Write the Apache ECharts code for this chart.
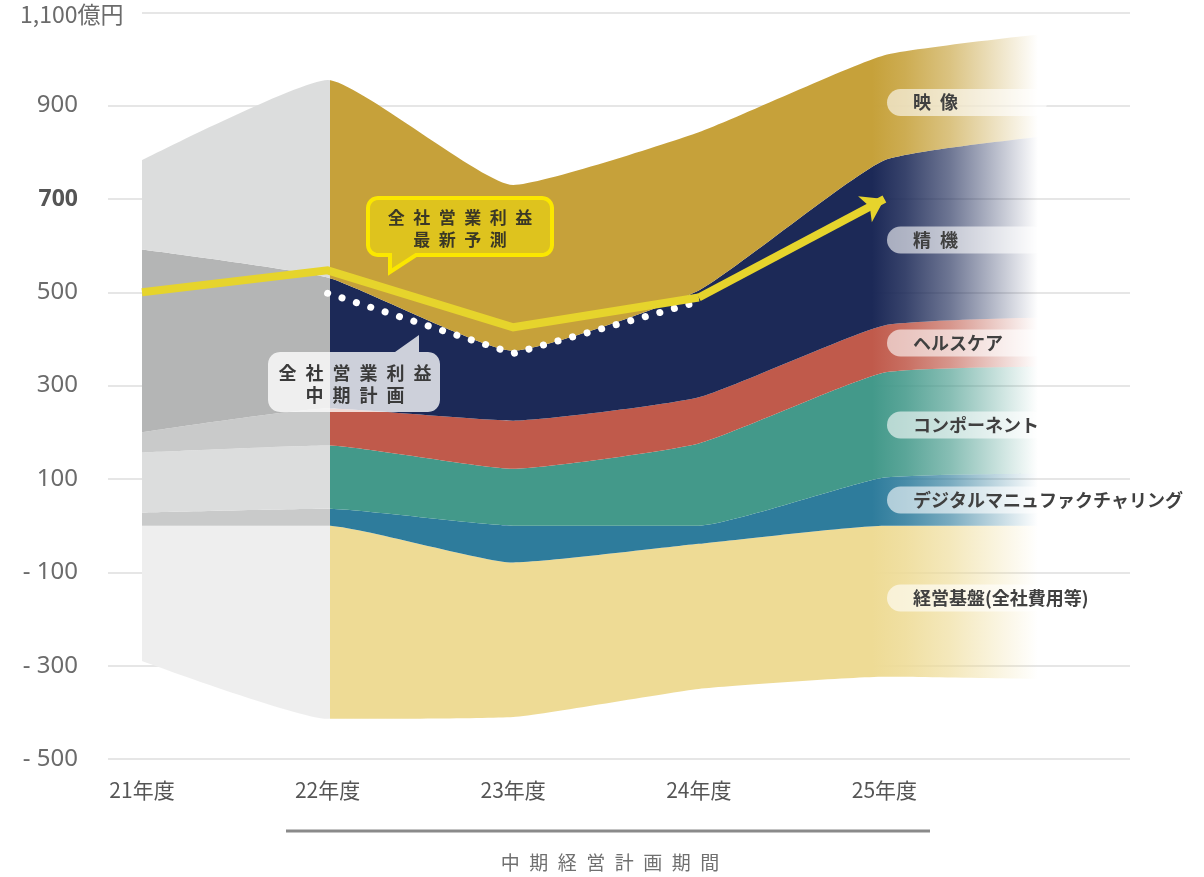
<!DOCTYPE html>
<html>
<head>
<meta charset="utf-8">
<script src="https://cdn.jsdelivr.net/npm/echarts@6/dist/echarts.min.js"></script>
<style>
  html, body { margin: 0; padding: 0; background: #fff; }
  #chart { width: 1204px; height: 877px; }
</style>
</head>
<body>
<div id="chart"></div>
<script>
// 年度
var years = ['21年度', '22年度', '23年度', '24年度', '25年度', ''];
// セグメント別営業利益 (億円)
var eizo = [191, 423, 355, 339, 225, 220];       // 映像
var seiki = [392, 281, 150, 229, 354, 393];      // 精機
var health = [43, 79, 103, 99, 101, 106];        // ヘルスケア
var comp = [129, 136, 122, 176, 225, 229];       // コンポーネント
var digital = [28, 36, -79, -39, 103, 112];      // デジタルマニュファクチャリング
var kiban = [-290, -414, -331, -311, -324, -330];// 経営基盤(全社費用等)
// 全社営業利益
var forecast = [500, 547, 425, 489, 700];        // 最新予測
var plan = ['-', 498, 369, 480, '-'];            // 中期計画
var yTicks = [-500, -300, -100, 100, 300, 500, 700, 900, 1100];

var chart = echarts.init(document.getElementById('chart'));

// bottom of the whole stack, so every band keeps its own thickness
var base = kiban.map(function (v, i) { return v + Math.min(digital[i], 0); });

var X0 = 142, X1 = 1070;
function off(px) { return (px - X0) / (X1 - X0); }
function fill(gray, color, rgb) {
  var c = function (a) { return 'rgba(' + rgb + ',' + a + ')'; };
  return new echarts.graphic.LinearGradient(X0, 0, X1, 0, [
    { offset: 0, color: gray },
    { offset: off(330), color: gray },
    { offset: off(330), color: color },
    { offset: off(872), color: color },
    { offset: off(905), color: c(0.88) },
    { offset: off(950), color: c(0.64) },
    { offset: off(1000), color: c(0.28) },
    { offset: off(1038), color: c(0) },
    { offset: 1, color: c(0) }
  ], true);
}

function band(name, values, gray, color, rgb) {
  return {
    name: name,
    type: 'line',
    xAxisIndex: 1,
    yAxisIndex: 1,
    stack: 'seg',
    stackStrategy: 'all',
    smooth: 0.15,
    symbol: 'none',
    lineStyle: { width: 0, opacity: 0 },
    areaStyle: { color: fill(gray, color, rgb), opacity: 1 },
    data: values.map(function (v) { return Math.abs(v); }),
    silent: true
  };
}

var font = '"Noto Sans CJK JP", "Noto Sans", sans-serif';
var sp = '\u2002';
function spaced(s) { return s.split('').join(sp); }

// rounded corner helper for the speech bubbles
function arc(cx, cy, r, a0, a1) {
  var pts = [];
  for (var k = 0; k <= 6; k++) {
    var a = (a0 + (a1 - a0) * k / 6) * Math.PI / 180;
    pts.push([cx + r * Math.cos(a), cy + r * Math.sin(a)]);
  }
  return pts;
}
function bubble(x1, y1, x2, y2, r, topTail, bottomTail) {
  return [].concat(
    arc(x1 + r, y1 + r, r, 180, 270), topTail || [],
    arc(x2 - r, y1 + r, r, 270, 360),
    arc(x2 - r, y2 - r, r, 0, 90), bottomTail || [],
    arc(x1 + r, y2 - r, r, 90, 180)
  );
}

function pill(y, text) {
  return [
    { type: 'rect', shape: { x: 887, y: y - 13.5, width: 160, height: 27, r: 13.5 },
      style: { fill: 'rgba(255,255,255,0.6)' }, z: 50 },
    { type: 'text', x: 913, y: y,
      style: { text: text, font: 'bold 18px ' + font, fill: '#404040', textVerticalAlign: 'middle' }, z: 51 }
  ];
}

var graphics = [
  { type: 'rect', z: 59, shape: { x: 100, y: 5, width: 42, height: 16 }, style: { fill: '#fff' } },
  { type: 'text', x: 20, y: 14, z: 60,
    style: { text: '1,100億円', font: '23px ' + font, fill: '#6b6b6b', textAlign: 'left', textVerticalAlign: 'middle' } },
  // 最新予測 callout
  { type: 'polygon', z: 40,
    shape: { points: bubble(368, 198, 552, 255, 10, null, [[416, 255], [390, 272], [390, 255]]) },
    style: { fill: '#dec31e', stroke: '#fbe700', lineWidth: 4, lineJoin: 'miter' } },
  { type: 'text', x: 460, y: 218, z: 41,
    style: { text: spaced('全社営業利益'), font: 'bold 17px ' + font, fill: '#3b3826', textAlign: 'center', textVerticalAlign: 'middle' } },
  { type: 'text', x: 460, y: 240, z: 41,
    style: { text: spaced('最新予測'), font: 'bold 17px ' + font, fill: '#3b3826', textAlign: 'center', textVerticalAlign: 'middle' } },
  // 中期計画 callout
  { type: 'polygon', z: 40,
    shape: { points: bubble(268, 352, 440, 412, 12, [[395, 352], [419, 335], [419, 352]], null) },
    style: { fill: 'rgba(255,255,255,0.78)' } },
  { type: 'text', x: 355, y: 373, z: 41,
    style: { text: spaced('全社営業利益'), font: 'bold 18px ' + font, fill: '#3a3a3a', textAlign: 'center', textVerticalAlign: 'middle' } },
  { type: 'text', x: 355, y: 395, z: 41,
    style: { text: spaced('中期計画'), font: 'bold 18px ' + font, fill: '#3a3a3a', textAlign: 'center', textVerticalAlign: 'middle' } },
  // 中期経営計画期間
  { type: 'line', z: 10, shape: { x1: 286, y1: 831, x2: 930, y2: 831 },
    style: { stroke: '#8a8a8a', lineWidth: 3 } },
  { type: 'text', x: 610, y: 863, z: 10,
    style: { text: spaced('中期経営計画期間'), font: '19px ' + font, fill: '#707070', textAlign: 'center', textVerticalAlign: 'middle' } }
];
graphics = graphics
  .concat(pill(102.5, '映' + sp + '像'))
  .concat(pill(240, '精' + sp + '機'))
  .concat(pill(343, 'ヘルスケア'))
  .concat(pill(425, 'コンポーネント'))
  .concat(pill(500, 'デジタルマニュファクチャリング'))
  .concat(pill(598, '経営基盤(全社費用等)'));

var option = {
  animation: false,
  backgroundColor: '#fff',
  grid: [
    { left: 108, right: 74, top: 12.3, bottom: 118 },
    { left: X0, right: 1204 - X1, top: 12.3, bottom: 118 }
  ],
  xAxis: [
    { gridIndex: 0, type: 'value', min: 0, max: 1, show: false },
    {
      gridIndex: 1, type: 'category', data: years, boundaryGap: false,
      axisLine: { show: false }, axisTick: { show: false },
      axisLabel: { margin: 21, fontSize: 21, color: '#555', fontFamily: font, interval: 0 }
    }
  ],
  yAxis: [
    {
      gridIndex: 0, type: 'value', min: yTicks[0], max: yTicks[yTicks.length - 1], interval: 200,
      axisLine: { show: false }, axisTick: { show: false },
      splitLine: { lineStyle: { color: '#dedede', width: 1.5 } },
      axisLabel: {
        margin: 30, fontSize: 24, color: '#6b6b6b', fontFamily: '"Noto Sans", sans-serif',
        formatter: function (v) {
          if (v === 1100) return '';
          if (v === 700) return '{b|700}';
          return v < 0 ? '- ' + (-v) : String(v);
        },
        rich: { b: { fontSize: 23, fontWeight: 'bold', color: '#555', fontFamily: '"Noto Sans", sans-serif' } }
      }
    },
    { gridIndex: 1, type: 'value', min: yTicks[0], max: yTicks[yTicks.length - 1], show: false }
  ],
  series: [
    {
      name: 'base', type: 'line', xAxisIndex: 1, yAxisIndex: 1,
      stack: 'seg', stackStrategy: 'all', smooth: 0.15, symbol: 'none',
      lineStyle: { width: 0, opacity: 0 }, data: base, silent: true
    },
    band('経営基盤(全社費用等)', kiban, '#eeeeee', '#eedb95', '238,219,149'),
    band('デジタルマニュファクチャリング', digital, '#c9caca', '#2e7c9c', '46,124,156'),
    band('コンポーネント', comp, '#dcdddd', '#43998a', '67,153,138'),
    band('ヘルスケア', health, '#c9caca', '#c05a4b', '192,90,75'),
    band('精機', seiki, '#b4b5b5', '#1c2957', '28,41,87'),
    band('映像', eizo, '#dcdddd', '#c6a13a', '198,161,58'),
    {
      name: '全社営業利益 中期計画', type: 'line', xAxisIndex: 1, yAxisIndex: 1,
      symbol: 'none', z: 5,
      lineStyle: { color: '#fff', width: 7, type: [0.1, 15], cap: 'round' },
      data: plan
    },
    {
      name: '全社営業利益 最新予測', type: 'line', xAxisIndex: 1, yAxisIndex: 1,
      symbol: 'none', z: 6,
      lineStyle: { color: '#e6d42c', width: 8, join: 'miter' },
      data: forecast.slice(0, 4),
      markLine: {
        silent: true, symbol: ['none', 'arrow'], symbolSize: [22, 22],
        label: { show: false },
        lineStyle: { color: '#e6d42c', width: 8, type: 'solid' },
        data: [[
          { coord: [years[3], forecast[3]] },
          { coord: [years[4], forecast[4]] }
        ]]
      }
    }
  ],
  graphic: graphics
};

chart.setOption(option);
</script>
</body>
</html>
